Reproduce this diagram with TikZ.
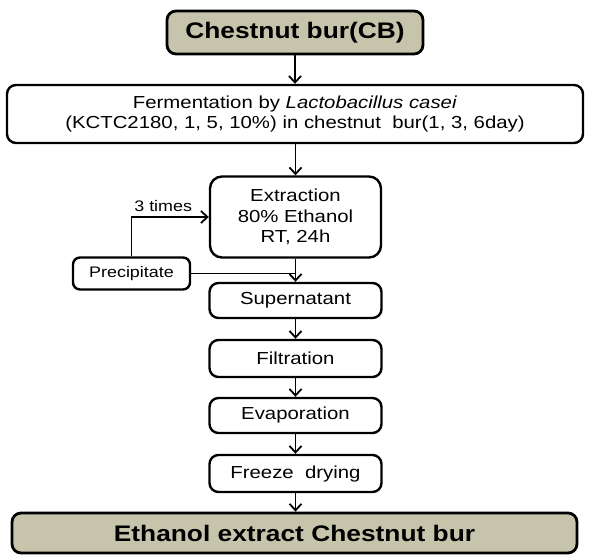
\documentclass[tikz,border=0pt]{standalone}
\usepackage{fontspec}
\setmainfont{Liberation Sans}[FakeStretch=1.17]
\usetikzlibrary{arrows.meta}
\definecolor{boxfill}{RGB}{198,197,172}
\begin{document}
\begin{tikzpicture}[x=1pt,y=-1pt,
  stepbox/.style={draw,line width=2.4pt,rounded corners=9pt,align=center,inner sep=0pt,
    font=\fontsize{17.4}{20.5}\selectfont},
  endbox/.style={stepbox,fill=boxfill,line width=2.8pt,font=\fontsize{22.5}{26}\selectfont\bfseries},
  smallbox/.style={stepbox,rounded corners=7pt,font=\fontsize{15.3}{18}\selectfont},
  flow/.style={line width=1.8pt,-{Straight Barb[length=6.5pt,width=12pt,line width=1.8pt]}},
  plain/.style={line width=1.8pt}]
\useasboundingbox (0,0) rectangle (592,556);
\node[endbox,minimum width=256,minimum height=43] (top) at (295,32.5) {Chestnut bur(CB)};
\node[stepbox,minimum width=576,minimum height=58] (ferm) at (295,114)
  {Fermentation by \textit{Lactobacillus casei}\\(KCTC2180, 1, 5, 10\%) in chestnut\ \ bur(1, 3, 6day)};
\node[stepbox,rounded corners=12pt,minimum width=171,minimum height=81] (extr) at (295.5,217)
  {Extraction\\80\% Ethanol\\RT, 24h};
\node[smallbox,minimum width=117,minimum height=32] (prec) at (131.5,273.5) {Precipitate};
\node[stepbox,minimum width=172,minimum height=35] (sup) at (295.5,300.5) {Supernatant};
\node[stepbox,minimum width=172,minimum height=37] (filt) at (295.5,358.5) {Filtration};
\node[stepbox,minimum width=172,minimum height=35] (evap) at (295.5,415.5) {Evaporation};
\node[stepbox,minimum width=172,minimum height=37] (frz) at (295.5,473.5) {Freeze\ \ drying};
\node[endbox,minimum width=565,minimum height=40] (bot) at (294.5,533) {Ethanol extract Chestnut bur};
\draw[flow] (top) -- (ferm);
\draw[flow] (ferm.south -| extr.north) -- (extr);
\draw[flow] (extr) -- (sup);
\draw[plain] (prec.east) -- (prec.east -| extr.south);
\draw[flow] (prec.north) |- (extr.west) node[pos=0.705,above=1pt,font=\fontsize{15.3}{18}\selectfont] (lbl) {3 times};
\draw[flow] (sup) -- (filt);
\draw[flow] (filt) -- (evap);
\draw[flow] (evap) -- (frz);
\draw[flow] (frz) -- (bot.north -| frz.south);
\end{tikzpicture}
\end{document}
